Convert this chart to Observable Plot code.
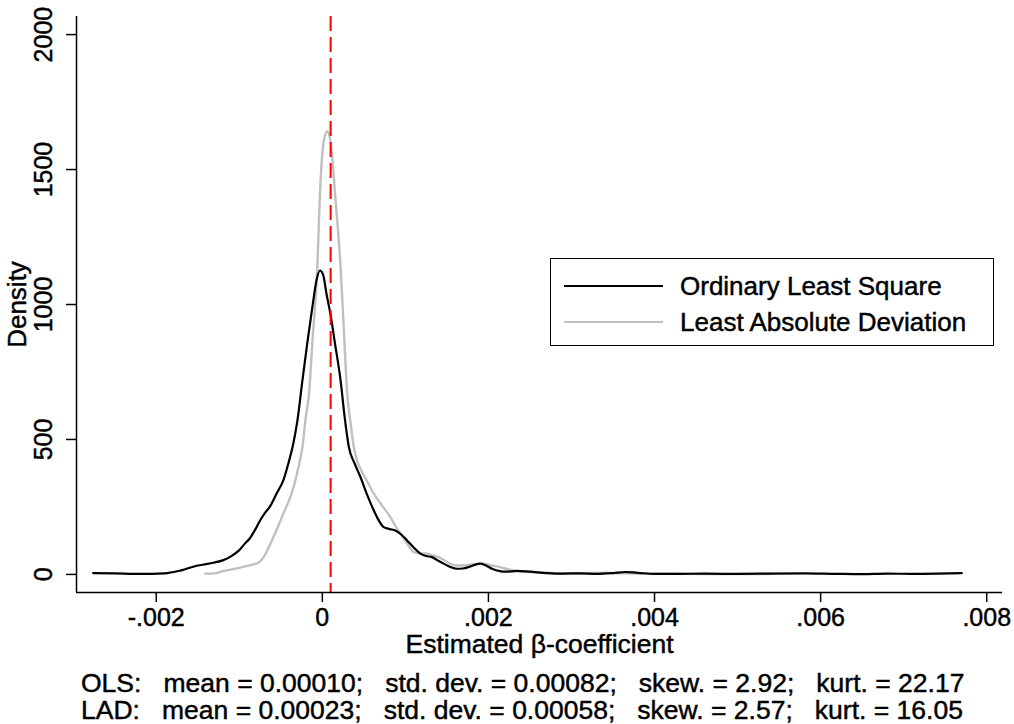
<!DOCTYPE html>
<html><head><meta charset="utf-8">
<script src="https://cdn.jsdelivr.net/npm/d3@7"></script>
<script src="https://cdn.jsdelivr.net/npm/@observablehq/plot@0.6"></script>
<style>
body{margin:0;background:#fff;font-family:"Liberation Sans",Arial,sans-serif;color:#000;}
#wrap{position:relative;width:1014px;height:724px;overflow:hidden;}
#wrap svg text{stroke:#000;stroke-width:0.45px;}
#legend{position:absolute;left:550px;top:258px;width:444px;height:88px;border:1.5px solid #000;box-sizing:border-box;}
.lrow{position:absolute;left:0;height:0;}
.lline{position:absolute;left:13px;width:99px;height:0;}
.ltext{position:absolute;left:129px;font-size:26px;white-space:nowrap;line-height:30px;top:-15px;-webkit-text-stroke:0.45px #000;}
#stats{position:absolute;left:81px;top:670px;font-size:26.5px;line-height:27px;white-space:pre;-webkit-text-stroke:0.45px #000;}
</style></head><body><div id="wrap"></div>
<script>
// OLS kernel density (black)
const olsX = [-0.00276,-0.0025,-0.0022,-0.0019,-0.0017,-0.0015,-0.0014,-0.0013,-0.0012,-0.0011,-0.001,-0.00093,-0.00087,-0.00081,-0.00075,-0.00069,-0.00063,-0.00055,-0.00047,-0.00041,-0.00035,-0.0003,-0.00024,-0.00018,-0.00012,-0.00007,-0.00003,0.00001,0.00005,0.0001,0.00015,0.00022,0.00027,0.00032,0.00039,0.00046,0.00054,0.00062,0.00068,0.00074,0.00081,0.00088,0.00095,0.00102,0.0011,0.00118,0.00125,0.00132,0.00139,0.00146,0.00154,0.00162,0.00169,0.00176,0.00183,0.0019,0.00197,0.00205,0.00214,0.0022,0.00235,0.0025,0.0027,0.0029,0.0031,0.0033,0.0035,0.00365,0.0038,0.004,0.0043,0.0046,0.005,0.0054,0.0058,0.0062,0.0065,0.0068,0.0071,0.0074,0.0077];
const olsY = [5,4,2,4,15,33,38,44,52,67,90,115,135,165,200,228,252,300,348,410,484,570,718,860,990,1090,1126,1110,1040,960,860,718,580,471,410,360,295,237,200,175,168,163,148,126,100,77,68,64,52,40,28,21,22,27,35,40,33,20,12,10,13,10,5,3,4,2,5,9,6,2,2,3,2,3,4,2,1,3,2,3,5];
// LAD kernel density (grey)
const ladX = [-0.00141,-0.0013,-0.0012,-0.0011,-0.001,-0.00093,-0.00087,-0.00081,-0.00075,-0.00071,-0.00067,-0.00063,-0.00059,-0.00053,-0.00047,-0.00042,-0.00037,-0.0003,-0.00024,-0.0002,-0.00016,-0.00012,-0.00006,-0.00003,0.00002,0.00006,0.0001,0.00016,0.00022,0.00026,0.0003,0.00034,0.00038,0.00042,0.00046,0.00054,0.00062,0.00072,0.00082,0.00088,0.00094,0.00102,0.0011,0.00118,0.00126,0.00133,0.0014,0.00148,0.00155,0.00162,0.00172,0.00182,0.00194,0.00204,0.00214,0.0022,0.0024,0.0026,0.0028,0.003,0.0032,0.0034,0.0036,0.0038,0.004,0.0044,0.0048,0.0051,0.0054];
const ladY = [3,4,12,18,24,30,34,39,48,62,85,110,138,180,225,260,299,380,471,580,669,860,1138,1400,1610,1642,1600,1385,1138,900,669,560,471,420,391,345,299,255,212,180,151,115,83,78,77,70,64,50,38,33,34,38,40,33,27,22,10,8,5,3,5,6,4,3,3,2,1,1,2];
const meanOLS = 0.0001;
const xTicks = [-0.002,0,0.002,0.004,0.006,0.008];
const xTickLabels = ["-.002","0",".002",".004",".006",".008"];
const yTicks = [0,500,1000,1500,2000];
const yTickLabels = ["0","500","1000","1500","2000"];
const seriesNames = ["Ordinary Least Square","Least Absolute Deviation"];
const statsLines = [
  "OLS:   mean = 0.00010;   std. dev. = 0.00082;   skew. = 2.92;   kurt. = 22.17",
  "LAD:   mean = 0.00023;   std. dev. = 0.00058;   skew. = 2.57;   kurt. = 16.05"
];
const xLabel = "Estimated β-coefficient";
const yLabel = "Density";

const ols = olsX.map((x,i)=>({x, y: olsY[i]}));
const lad = ladX.map((x,i)=>({x, y: ladY[i]}));
const xDom = [-0.00296, 0.00819], yDom = [-67, 2067];
const font = '"Liberation Sans", Arial, sans-serif';

const chart = Plot.plot({
  width: 1014, height: 660,
  marginLeft: 76, marginRight: 12, marginTop: 16, marginBottom: 68,
  style: {fontFamily: font, fontSize: "24px", color: "#000", background: "#fff", overflow: "visible"},
  x: {domain: xDom, label: null},
  y: {domain: yDom, label: null},
  marks: [
    Plot.line(lad, {x: "x", y: "y", stroke: "#c0c0c0", strokeWidth: 2.4, curve: "monotone-x"}),
    Plot.line(ols, {x: "x", y: "y", stroke: "#000", strokeWidth: 2.2, curve: "monotone-x"}),
    Plot.ruleX([meanOLS], {stroke: "#ff0000", strokeWidth: 2, strokeDasharray: "15,6"}),
    Plot.ruleX([xDom[0]], {stroke: "#000", strokeWidth: 1.5}),
    Plot.ruleY([yDom[0]], {stroke: "#000", strokeWidth: 1.5}),
    Plot.axisX(xTicks, {tickSize: 10, tickPadding: 6, strokeWidth: 1.5, fontSize: 25, label: null,
      tickFormat: d => xTickLabels[xTicks.indexOf(d)]}),
    Plot.axisY(yTicks, {tickSize: 10, strokeWidth: 1.5, label: null, tickFormat: () => ""}),
    Plot.text(yTicks, {y: d => d, text: d => yTickLabels[yTicks.indexOf(d)], frameAnchor: "left", rotate: -90, dx: -33, lineAnchor: "middle", textAnchor: "middle", fontSize: 25}),
    Plot.text([yLabel], {text: d => d, frameAnchor: "left", rotate: -90, dx: -59, lineAnchor: "middle", textAnchor: "middle", fontSize: 26}),
    Plot.text([xLabel], {text: d => d, frameAnchor: "bottom", dy: 52, lineAnchor: "middle", textAnchor: "middle", fontSize: 26.5})
  ]
});
const wrap = document.getElementById("wrap");
wrap.appendChild(chart);

const legend = document.createElement("div");
legend.id = "legend";
const colors = ["#000", "#c0c0c0"];
const rowsY = [27, 63];
seriesNames.forEach((name, i) => {
  const row = document.createElement("div");
  row.className = "lrow";
  row.style.top = rowsY[i] + "px";
  const ln = document.createElement("div");
  ln.className = "lline";
  ln.style.borderTop = `2.2px solid ${colors[i]}`;
  ln.style.top = "-1px";
  const tx = document.createElement("div");
  tx.className = "ltext";
  tx.textContent = name;
  row.appendChild(ln); row.appendChild(tx);
  legend.appendChild(row);
});
wrap.appendChild(legend);

const stats = document.createElement("div");
stats.id = "stats";
stats.textContent = statsLines.join("\n");
wrap.appendChild(stats);
</script>
</body></html>
